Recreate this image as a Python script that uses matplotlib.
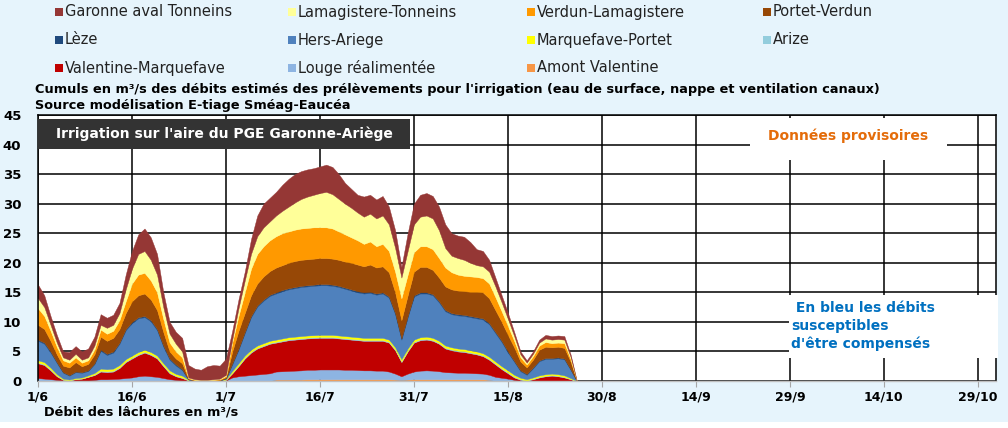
import matplotlib
matplotlib.use('Agg')
import matplotlib.pyplot as plt
from matplotlib.patches import Rectangle

plt.rcParams['font.family'] = ['DejaVu Sans']

# ---------------- data (m3/s, one value per day from 1 June) ----------------
days = list(range(87))

amont_valentine = [
    0, 0, 0, 0, 0, 0, 0, 0, 0, 0,
    0, 0, 0, 0, 0, 0, 0, 0, 0, 0,
    0, 0, 0, 0, 0, 0, 0, 0, 0, 0,
    0, 0, 0, 0, 0, 0, 0, 0, .25, .25,
    .25, .25, .25, .3, .3, .3, .3, .3, .3, .3,
    .3, .3, .3, .3, .3, .3, .3, .25, .2, .25,
    .3, .3, .3, .3, .3, .3, .3, .3, .3, .3,
    .3, .3, .2, 0, 0, 0, 0, 0, 0, 0,
    0, 0, 0, 0, 0, 0, 0]
louge = [
    .5, .4, .3, .2, .1, .05, .1, .1, .1, .2,
    .3, .3, .35, .4, .5, .6, .8, .9, .8, .7,
    .5, .3, .2, .1, .05, 0, 0, 0, 0, 0,
    .1, .6, .8, .9, 1.0, 1.1, 1.2, 1.3, 1.35, 1.4,
    1.45, 1.5, 1.55, 1.6, 1.6, 1.65, 1.65, 1.65, 1.65, 1.6,
    1.6, 1.55, 1.5, 1.5, 1.45, 1.45, 1.3, 1.0, .6, 1.0,
    1.3, 1.45, 1.5, 1.45, 1.35, 1.2, 1.15, 1.1, 1.1, 1.05,
    1.0, .95, .85, .7, .55, .4, .2, .05, 0, 0,
    0, 0, 0, 0, 0, 0, 0]
valentine = [
    2.5, 2.3, 1.5, .6, .1, .05, .2, .3, .6, .8,
    1.3, 1.2, 1.25, 1.8, 2.7, 3.2, 3.6, 3.9, 3.6, 3.1,
    2.0, 1.0, .6, .4, .05, .05, 0, 0, 0, .05,
    .1, .7, 1.7, 2.9, 3.8, 4.4, 4.7, 5.0, 4.9, 5.05,
    5.2, 5.25, 5.3, 5.3, 5.35, 5.35, 5.35, 5.35, 5.25, 5.2,
    5.1, 5.05, 5.0, 5.0, 5.05, 5.05, 4.9, 3.95, 2.4, 3.75,
    4.9, 5.15, 5.2, 5.05, 4.65, 4.0, 3.75, 3.6, 3.5, 3.35,
    3.2, 2.95, 2.55, 2.1, 1.45, .9, .4, .15, .05, .3,
    .6, .8, .9, .8, .6, .3, 0]
arize = [
    .15, .15, .15, .1, .05, .05, .05, .05, .05, .1,
    .15, .15, .15, .15, .15, .15, .15, .15, .15, .15,
    .15, .15, .1, .1, .05, 0, 0, 0, 0, 0,
    .05, .1, .15, .15, .15, .15, .15, .15, .15, .15,
    .15, .15, .15, .15, .15, .15, .15, .15, .15, .15,
    .15, .15, .15, .15, .15, .15, .15, .15, .15, .15,
    .15, .15, .15, .15, .15, .15, .15, .15, .15, .15,
    .15, .15, .15, .15, .15, .15, .15, .1, .05, .1,
    .1, .1, .1, .1, .1, .05, 0]
marquefave = [
    .35, .35, .3, .25, .15, .1, .15, .15, .2, .25,
    .35, .35, .35, .35, .35, .35, .35, .35, .35, .35,
    .35, .35, .3, .3, .1, .05, .05, .05, .05, .05,
    .1, .3, .35, .35, .35, .35, .35, .35, .35, .35,
    .35, .35, .35, .35, .35, .35, .35, .35, .35, .35,
    .35, .35, .35, .35, .35, .35, .35, .35, .35, .35,
    .35, .35, .35, .35, .35, .35, .35, .35, .35, .35,
    .35, .35, .35, .35, .35, .35, .3, .25, .2, .2,
    .25, .25, .25, .25, .25, .15, 0]
hers = [
    3.3, 3.1, 2.55, 1.9, 1.0, .65, 1.0, .8, .75, 1.5,
    3.0, 2.4, 2.7, 3.6, 4.9, 5.5, 5.7, 5.5, 5.2, 4.3,
    2.8, 1.8, 1.4, .95, 0, 0, 0, 0, 0, 0,
    .1, 1.1, 2.3, 3.8, 5.5, 6.6, 7.2, 7.6, 7.8, 8.0,
    8.1, 8.2, 8.3, 8.3, 8.35, 8.4, 8.4, 8.3, 8.2, 8.0,
    7.8, 7.6, 7.5, 7.6, 7.3, 7.5, 7.1, 5.6, 3.3, 5.3,
    7.3, 7.4, 7.3, 7.2, 6.5, 5.8, 5.6, 5.6, 5.6, 5.6,
    5.6, 5.7, 5.5, 4.8, 4.1, 3.0, 2.2, 1.1, .75, 1.55,
    2.4, 2.6, 2.5, 2.7, 2.7, 1.4, 0]
leze = [
    .2, .2, .2, .15, .1, .1, .1, .1, .1, .15,
    .2, .2, .2, .2, .2, .2, .2, .2, .2, .2,
    .2, .2, .2, .15, .05, 0, 0, 0, 0, 0,
    .05, .2, .2, .2, .2, .2, .2, .2, .2, .2,
    .2, .2, .2, .2, .2, .2, .2, .2, .2, .2,
    .2, .2, .2, .2, .2, .2, .2, .2, .2, .2,
    .2, .2, .2, .2, .2, .2, .2, .2, .2, .2,
    .2, .2, .2, .2, .2, .2, .15, .15, .15, .15,
    .15, .15, .15, .15, .15, .1, 0]
portet = [
    2.5, 2.3, 1.8, 1.3, 1.1, 1.3, 1.6, 1.0, 1.1, 1.5,
    2.2, 2.2, 2.3, 2.3, 2.7, 3.5, 3.7, 3.8, 3.5, 3.2,
    2.3, 1.2, 1.0, 1.0, .1, .05, .05, .05, .05, .1,
    .15, 2.0, 3.0, 3.2, 3.5, 3.7, 3.9, 4.0, 4.2, 4.2,
    4.3, 4.4, 4.4, 4.4, 4.4, 4.4, 4.4, 4.4, 4.4, 4.4,
    4.5, 4.5, 4.4, 4.6, 4.4, 4.4, 4.1, 3.5, 3.1, 3.5,
    4.0, 4.3, 4.3, 4.1, 4.0, 4.0, 4.0, 4.0, 4.0, 4.1,
    4.3, 4.4, 4.2, 3.7, 3.2, 2.8, 2.3, 1.5, 1.1, 1.3,
    1.8, 1.9, 1.8, 1.8, 1.8, 1.3, 0]
verdun = [
    2.8, 2.2, 1.7, 1.3, .9, .8, .8, .6, .6, .8,
    1.2, 1.2, 1.2, 1.5, 2.0, 3.0, 3.5, 3.5, 3.2, 3.0,
    2.2, 1.5, 1.2, 1.0, .1, .05, .05, .05, .1, .1,
    .2, 1.5, 2.5, 3.5, 4.5, 5.0, 5.1, 5.2, 5.3, 5.4,
    5.3, 5.3, 5.3, 5.3, 5.3, 5.2, 5.2, 5.1, 4.8, 4.6,
    4.3, 4.1, 3.8, 3.9, 3.6, 3.8, 3.6, 3.5, 3.7, 3.5,
    3.3, 3.5, 3.5, 3.5, 3.3, 3.2, 2.9, 2.7, 2.6, 2.6,
    2.5, 2.4, 2.5, 2.2, 1.8, 1.5, 1.1, .7, .5, .6,
    .7, .8, .7, .7, .8, .4, 0]
lamagistere = [
    1.7, 1.5, 1.0, .7, .5, .5, .6, .5, .5, .7,
    .8, 1.0, 1.0, 1.2, 2.0, 2.5, 3.5, 3.7, 3.5, 3.0,
    2.0, 1.5, 1.3, 1.0, .1, .1, .05, .05, .1, .1,
    .2, .5, 1.3, 2.0, 2.5, 3.0, 3.2, 3.2, 3.5, 3.8,
    4.2, 4.6, 5.0, 5.3, 5.5, 5.8, 6.0, 5.8, 5.5, 5.2,
    5.0, 4.7, 4.6, 4.7, 4.7, 4.8, 4.5, 4.0, 3.5, 4.0,
    4.7, 5.0, 5.2, 5.2, 4.7, 3.3, 2.8, 2.8, 2.7, 2.3,
    2.0, 2.0, 2.0, 1.8, 1.5, 1.2, .8, .5, .3, .4,
    .5, .6, .6, .6, .6, .4, 0]
garonne = [
    2.3, 2.0, 1.5, 1.3, 1.0, 1.3, 1.3, 1.4, 1.5, 1.5,
    1.8, 1.7, 1.7, 1.7, 2.5, 3.0, 3.3, 3.8, 3.8, 3.5,
    2.5, 2.0, 2.0, 2.3, 2.1, 1.8, 1.7, 2.3, 2.4, 2.2,
    2.75, 1.5, 1.5, 1.5, 2.5, 3.5, 4.0, 4.0, 4.0, 4.4,
    4.7, 4.8, 4.7, 4.6, 4.5, 4.5, 4.6, 4.6, 4.2, 3.5,
    3.2, 3.0, 3.4, 3.2, 3.2, 3.3, 3.0, 3.0, 1.8, 3.0,
    3.5, 3.7, 3.8, 3.8, 4.0, 4.0, 3.8, 3.8, 3.9, 3.5,
    2.7, 2.6, 2.0, 1.5, 1.2, 1.0, .7, .5, .4, .4,
    .5, .6, .6, .6, .6, .4, 0]

# stacking order, bottom to top
series_names = ["Amont Valentine", "Louge réalimentée", "Valentine-Marquefave",
                "Arize", "Marquefave-Portet", "Hers-Ariege", "Lèze",
                "Portet-Verdun", "Verdun-Lamagistere", "Lamagistere-Tonneins",
                "Garonne aval Tonneins"]
series_values = [amont_valentine, louge, valentine, arize, marquefave, hers,
                 leze, portet, verdun, lamagistere, garonne]
series_colors = ["#F79646", "#8DB4E2", "#C00000", "#93CDDD", "#FFFF00",
                 "#4F81BD", "#1F497D", "#974806", "#FF9900", "#FFFF99",
                 "#953735"]

# legend layout as in the reference (rows x columns)
legend_grid = [
    ["Garonne aval Tonneins", "Lamagistere-Tonneins", "Verdun-Lamagistere", "Portet-Verdun"],
    ["Lèze", "Hers-Ariege", "Marquefave-Portet", "Arize"],
    ["Valentine-Marquefave", "Louge réalimentée", "Amont Valentine", None],
]

tick_days = [0, 15, 30, 45, 60, 75, 90, 105, 120, 135, 150]
tick_labels = ["1/6", "16/6", "1/7", "16/7", "31/7", "15/8", "30/8",
               "14/9", "29/9", "14/10", "29/10"]
y_ticks = [0, 5, 10, 15, 20, 25, 30, 35, 40, 45]

# ---------------- figure ----------------
W, H = 1008, 428
BG = "#e6f4fc"
fig = plt.figure(figsize=(W / 100, H / 100), dpi=100, facecolor=BG)

def fx(px):
    return px / W

def fy(py):
    return 1 - py / H

ax = fig.add_axes([fx(38), fy(381), (996 - 38) / W, (381 - 115) / H])
ax.set_facecolor("white")

ax.stackplot(days, *series_values, colors=series_colors, linewidth=0.3,
             edgecolor="face", zorder=2)

ax.set_xlim(0, 152.9)
ax.set_ylim(0, 45)
ax.set_xticks(tick_days)
ax.set_xticklabels(tick_labels, fontweight="bold", fontsize=9)
ax.set_yticks(y_ticks)
ax.set_yticklabels([str(v) for v in y_ticks], fontweight="bold", fontsize=9.5)
ax.tick_params(axis="y", length=0, pad=12)
ax.tick_params(axis="x", length=4, color="#a6a6a6", pad=3)
ax.grid(True, color="black", linewidth=1.1)
ax.set_axisbelow(True)
for s in ["left", "top", "right"]:
    ax.spines[s].set_color("black")
    ax.spines[s].set_linewidth(1.1)
ax.spines["bottom"].set_color("#c0c0c0")
ax.spines["bottom"].set_linewidth(1.0)

# title box inside the plot
ax.add_patch(Rectangle((0, (381 - 149) / 266), (410 - 38) / 958, 30 / 266,
                       transform=ax.transAxes, facecolor="#333333",
                       edgecolor="none", zorder=5))
ax.text((224 - 38) / 958, (381 - 134) / 266,
        "Irrigation sur l'aire du PGE Garonne-Ariège",
        transform=ax.transAxes, ha="center", va="center", color="white",
        fontweight="bold", fontsize=10, zorder=6)

# "Données provisoires"
ax.add_patch(Rectangle(((750 - 38) / 958, (381 - 160) / 266), 197 / 958, 42 / 266,
                       transform=ax.transAxes, facecolor="white",
                       edgecolor="none", zorder=5))
ax.text((848 - 38) / 958, (381 - 136) / 266, "Données provisoires",
        transform=ax.transAxes, ha="center", va="center", color="#E46C0A",
        fontweight="bold", fontsize=10, zorder=6)

# "En bleu ..." note
ax.add_patch(Rectangle(((789 - 38) / 958, (381 - 358) / 266), 209 / 958, 63 / 266,
                       transform=ax.transAxes, facecolor="white",
                       edgecolor="none", zorder=5, clip_on=False))
ax.text((791 - 38) / 958, (381 - 301) / 266,
        " En bleu les débits\nsusceptibles\nd'être compensés",
        transform=ax.transAxes, ha="left", va="top", color="#0070C0",
        fontweight="bold", fontsize=10, linespacing=1.35, zorder=6)

# header texts
fig.text(fx(35), fy(90),
         "Cumuls en m³/s des débits estimés des prélèvements pour l'irrigation "
         "(eau de surface, nappe et ventilation canaux)",
         ha="left", va="center", fontweight="bold", fontsize=9.25)
fig.text(fx(35), fy(106), "Source modélisation E-tiage Sméag-Eaucéa",
         ha="left", va="center", fontweight="bold", fontsize=9.25)
fig.text(fx(44), fy(412), "Débit des lâchures en m³/s",
         ha="left", va="center", fontweight="bold", fontsize=9.25)

# white strip at the very bottom
fig.patches.append(Rectangle((0, 0), 1, fy(422), transform=fig.transFigure,
                             facecolor="white", edgecolor="none", zorder=0))

# legend (manual grid)
col_x = [55, 288, 527, 763]
row_y = [12, 40, 68]
color_of = dict(zip(series_names, series_colors))
for r, row in enumerate(legend_grid):
    for c, name in enumerate(row):
        if name is None:
            continue
        x0, y0 = col_x[c], row_y[r]
        fig.patches.append(Rectangle((fx(x0), fy(y0 + 4)), 8 / W, 8 / H,
                                     transform=fig.transFigure,
                                     facecolor=color_of[name], edgecolor="none"))
        fig.text(fx(x0 + 10), fy(y0), name, ha="left", va="center",
                 fontsize=10.5, color="#222222")

fig.savefig("out.png", dpi=100, facecolor=BG)
